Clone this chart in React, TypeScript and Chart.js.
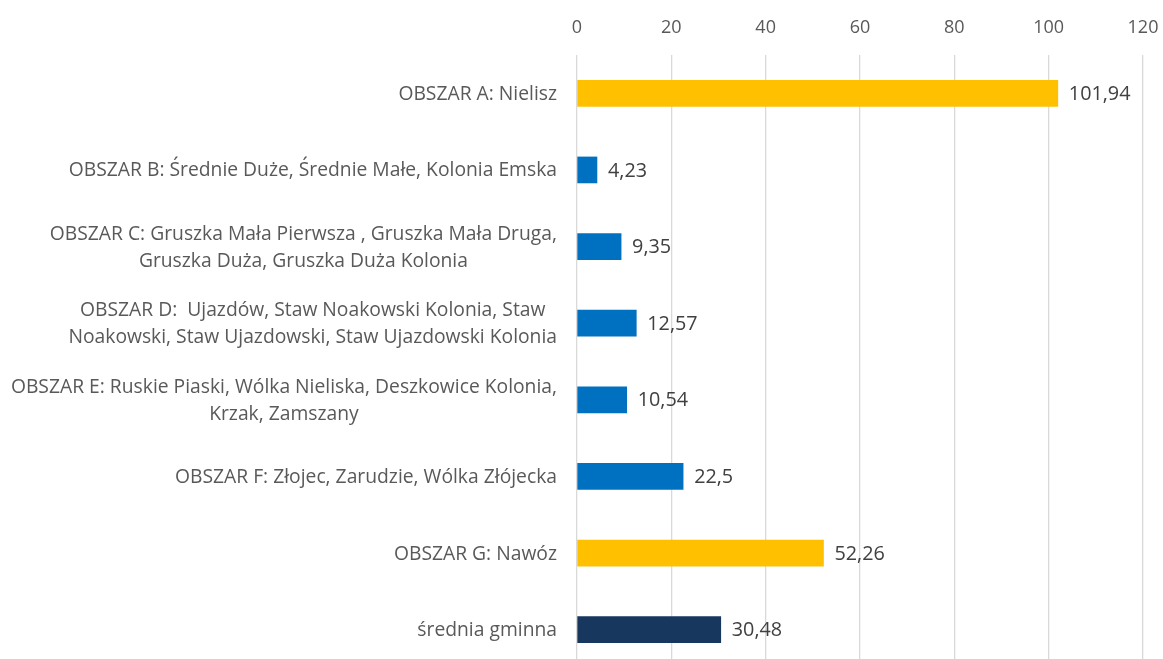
import React, { useEffect, useRef } from "react";
import { Chart, registerables } from "chart.js";

Chart.register(...registerables);

const categories: string[][] = [
  ["OBSZAR A: Nielisz"],
  ["OBSZAR B: Średnie Duże, Średnie Małe, Kolonia Emska"],
  ["OBSZAR C: Gruszka Mała Pierwsza , Gruszka Mała Druga,", "Gruszka Duża, Gruszka Duża Kolonia"],
  ["OBSZAR D:  Ujazdów, Staw Noakowski Kolonia, Staw", "Noakowski, Staw Ujazdowski, Staw Ujazdowski Kolonia"],
  ["OBSZAR E: Ruskie Piaski, Wólka Nieliska, Deszkowice Kolonia,", "Krzak, Zamszany"],
  ["OBSZAR F: Złojec, Zarudzie, Wólka Złójecka"],
  ["OBSZAR G: Nawóz"],
  ["średnia gminna"],
];
const values: number[] = [101.94, 4.23, 9.35, 12.57, 10.54, 22.5, 52.26, 30.48];
const valueLabels: string[] = ["101,94", "4,23", "9,35", "12,57", "10,54", "22,5", "52,26", "30,48"];
const barColors: string[] = ["#FFC000", "#0070C0", "#0070C0", "#0070C0", "#0070C0", "#0070C0", "#FFC000", "#17375E"];
const xTicks: number[] = [0, 20, 40, 60, 80, 100, 120];

const FONT = "'Open Sans', sans-serif";

const labelsPlugin = {
  id: "customLabels",
  afterDatasetsDraw(chart: any) {
    const ctx = chart.ctx;
    const meta = chart.getDatasetMeta(0);
    const yScale = chart.scales.y;
    ctx.save();
    // value labels
    ctx.font = `19.8px ${FONT}`;
    ctx.fillStyle = "#404040";
    ctx.textBaseline = "middle";
    ctx.textAlign = "left";
    meta.data.forEach((bar: any, i: number) => {
      ctx.fillText(valueLabels[i], bar.x + 11, bar.y + 1);
    });
    // category labels, centred block, right aligned
    ctx.font = `19.3px ${FONT}`;
    ctx.fillStyle = "#595959";
    const rightEdge = yScale.right - 20;
    const lineH = 27;
    categories.forEach((lines, i) => {
      const cy = yScale.getPixelForValue(i);
      const widths = lines.map((l) => ctx.measureText(l).width);
      const maxW = Math.max(...widths);
      const cx = rightEdge - maxW / 2;
      ctx.textAlign = "center";
      const startY = cy - ((lines.length - 1) * lineH) / 2 + 1;
      lines.forEach((l, j) => {
        ctx.fillText(l, cx, startY + j * lineH);
      });
    });
    ctx.restore();
  },
};

export default function App() {
  const ref = useRef<HTMLCanvasElement | null>(null);
  useEffect(() => {
    if (!ref.current) return;
    const chart = new Chart(ref.current, {
      type: "bar",
      data: {
        labels: categories.map((c) => c.join(" ")),
        datasets: [
          {
            data: values,
            backgroundColor: barColors,
            borderWidth: 0,
            barThickness: 26,
          },
        ],
      },
      options: {
        indexAxis: "y",
        animation: false,
        responsive: false,
        layout: { padding: 0 },
        plugins: { legend: { display: false }, tooltip: { enabled: false } },
        scales: {
          x: {
            position: "top",
            min: 0,
            max: 120,
            afterBuildTicks: (scale: any) => {
              scale.ticks = xTicks.map((v) => ({ value: v }));
            },
            afterFit: (scale: any) => {
              scale.height = 55;
              scale.paddingRight = 20;
              scale.paddingLeft = 0;
            },
            grid: { color: "#D9D9D9", lineWidth: 1.3, drawTicks: false },
            border: { display: false },
            ticks: {
              padding: 16,
              color: "#595959",
              font: { family: FONT, size: 18 },
            },
          },
          y: {
            afterFit: (scale: any) => {
              scale.width = 577;
              scale.paddingTop = 0;
              scale.paddingBottom = 0;
            },
            grid: { display: false },
            border: { display: false },
            ticks: { display: false },
          },
        },
      },
      plugins: [labelsPlugin],
    });
    return () => chart.destroy();
  }, []);
  return (
    <div style={{ position: "fixed", left: 0, top: 0, width: 1163, height: 659, overflow: "hidden", background: "#fff" }}>
      <canvas ref={ref} width={1163} height={668} style={{ display: "block" }} />
    </div>
  );
}
